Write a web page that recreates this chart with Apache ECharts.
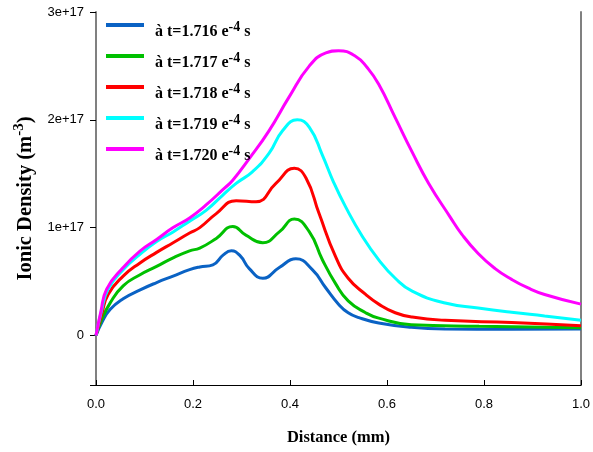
<!DOCTYPE html>
<html>
<head>
<meta charset="utf-8">
<script src="https://cdn.jsdelivr.net/npm/echarts@6/dist/echarts.min.js"></script>
<style>
  html, body { margin: 0; padding: 0; background: #fff; }
  #chart { width: 593px; height: 452px; }
</style>
</head>
<body>
<div id="chart"></div>
<script>
// valeurs en unités de 1e17 m^-3, distance en mm
var names = ['1.716', '1.717', '1.718', '1.719', '1.720'];
var colors = ['#0a62c4', '#00c000', '#ff0000', '#00ffff', '#ff00ff'];
var yTicks = [0, 1, 2, 3];

var t1716 = [[0, 0], [0.012, 0.12], [0.029, 0.24], [0.056, 0.34], [0.09, 0.42], [0.125, 0.49],
  [0.159, 0.55], [0.193, 0.61], [0.214, 0.635], [0.241, 0.655], [0.262, 0.745], [0.279, 0.785],
  [0.297, 0.74], [0.316, 0.62], [0.344, 0.53], [0.378, 0.63], [0.412, 0.71], [0.446, 0.61],
  [0.474, 0.44], [0.50, 0.29], [0.52, 0.21], [0.542, 0.165], [0.583, 0.115], [0.65, 0.075],
  [0.72, 0.06], [0.85, 0.058], [1.0, 0.06]];
var t1717 = [[0, 0], [0.012, 0.15], [0.029, 0.30], [0.056, 0.46], [0.09, 0.56], [0.125, 0.64],
  [0.159, 0.72], [0.193, 0.785], [0.214, 0.81], [0.248, 0.90], [0.282, 1.01], [0.309, 0.93],
  [0.344, 0.86], [0.378, 0.96], [0.409, 1.08], [0.44, 0.96], [0.467, 0.70], [0.494, 0.48],
  [0.52, 0.32], [0.556, 0.21], [0.583, 0.16], [0.65, 0.10], [0.79, 0.085], [1.0, 0.07]];
var t1718 = [[0, 0], [0.012, 0.20], [0.025, 0.38], [0.056, 0.55], [0.09, 0.67], [0.125, 0.77],
  [0.159, 0.86], [0.193, 0.95], [0.214, 1.0], [0.248, 1.13], [0.289, 1.25], [0.33, 1.24],
  [0.371, 1.41], [0.409, 1.55], [0.433, 1.46], [0.46, 1.13], [0.494, 0.73], [0.52, 0.53],
  [0.556, 0.38], [0.583, 0.29], [0.617, 0.21], [0.652, 0.17], [0.72, 0.14], [0.857, 0.12],
  [1.0, 0.09]];
var t1719 = [[0, 0], [0.011, 0.22], [0.025, 0.43], [0.056, 0.61], [0.09, 0.75], [0.125, 0.87],
  [0.159, 0.96], [0.193, 1.06], [0.227, 1.16], [0.261, 1.30], [0.289, 1.41], [0.323, 1.52],
  [0.357, 1.69], [0.385, 1.90], [0.415, 2.00], [0.44, 1.93], [0.467, 1.67], [0.49, 1.42],
  [0.515, 1.19], [0.549, 0.92], [0.583, 0.70], [0.617, 0.53], [0.652, 0.41], [0.72, 0.30],
  [0.788, 0.255], [0.857, 0.215], [0.925, 0.18], [1.0, 0.14]];
var t1720 = [[0, 0], [0.01, 0.22], [0.022, 0.43], [0.056, 0.63], [0.09, 0.78], [0.125, 0.89],
  [0.159, 1.00], [0.193, 1.09], [0.227, 1.21], [0.261, 1.35], [0.282, 1.44], [0.316, 1.64],
  [0.357, 1.90], [0.398, 2.21], [0.44, 2.50], [0.474, 2.62], [0.50, 2.64], [0.535, 2.59],
  [0.56, 2.48], [0.583, 2.33], [0.617, 2.02], [0.652, 1.70], [0.686, 1.41], [0.73, 1.10],
  [0.754, 0.94], [0.788, 0.76], [0.823, 0.62], [0.857, 0.52], [0.891, 0.44], [0.925, 0.38],
  [1.0, 0.29]];

var allData = [t1716, t1717, t1718, t1719, t1720];

var myChart = echarts.init(document.getElementById('chart'));

var serif = 'Liberation Serif';
var series = [];
for (var i = 0; i < names.length; i++) {
  series.push({
    name: names[i],
    type: 'line',
    data: allData[i],
    smooth: 0.5,
    symbol: 'none',
    lineStyle: { width: 3, color: colors[i] },
    itemStyle: { color: colors[i] }
  });
}

var option = {
  animation: false,
  grid: { left: 96, right: 10, top: 12, bottom: 67 },
  legend: {
    left: 106,
    top: 10,
    padding: 0,
    orient: 'vertical',
    icon: 'rect',
    itemWidth: 38,
    itemHeight: 4,
    itemGap: 1,
    data: names,
    formatter: function (n) {
      return '{p|à t=' + n + ' e}{s|-4}{a| s}';
    },
    textStyle: {
      rich: {
        p: { fontFamily: serif, fontWeight: 'bold', fontSize: 16, color: '#000', lineHeight: 16, padding: [14, 0, 0, 6] },
        a: { fontFamily: serif, fontWeight: 'bold', fontSize: 16, color: '#000', lineHeight: 16, padding: [14, 0, 0, 0] },
        s: { fontFamily: serif, fontWeight: 'bold', fontSize: 14, color: '#000', lineHeight: 14, padding: [10, 0, 6, 0] }
      }
    }
  },
  xAxis: {
    type: 'value',
    min: 0,
    max: 1,
    interval: 0.2,
    name: 'Distance (mm)',
    nameLocation: 'middle',
    nameGap: 44,
    nameTextStyle: { fontFamily: serif, fontWeight: 'bold', fontSize: 16.5, color: '#000' },
    axisLine: { show: true, onZero: false, lineStyle: { color: '#000', width: 1 } },
    axisTick: { show: true, inside: true, length: 5, lineStyle: { color: '#000' } },
    axisLabel: {
      margin: 13,
      fontFamily: 'Liberation Sans',
      fontSize: 13,
      color: '#000',
      formatter: function (v) { return v.toFixed(1); }
    },
    splitLine: { show: false }
  },
  yAxis: [{
    type: 'value',
    min: -0.46,
    max: 3,
    name: '{b|Ionic Density (m}{s|-3}{b|)}',
    nameLocation: 'middle',
    nameGap: 60,
    nameTextStyle: {
      rich: {
        b: { fontFamily: serif, fontWeight: 'bold', fontSize: 20.5, color: '#000', lineHeight: 22, padding: [6, 0, 0, 0] },
        s: { fontFamily: serif, fontWeight: 'bold', fontSize: 15, color: '#000', lineHeight: 20, padding: [0, 0, 8, 0] }
      }
    },
    axisLine: { show: true, lineStyle: { color: '#808080', width: 2 } },
    axisTick: { show: true, length: 6, customValues: [-0.46, 0, 1, 2, 3], lineStyle: { color: '#000' } },
    axisLabel: {
      margin: 12,
      fontFamily: 'Liberation Sans',
      fontSize: 13,
      color: '#000',
      customValues: yTicks,
      formatter: function (v) { return v === 0 ? '0' : v + 'e+17'; }
    },
    splitLine: { show: false }
  }, {
    type: 'value',
    position: 'right',
    min: -0.46,
    max: 3,
    axisLine: { show: true, lineStyle: { color: '#808080', width: 2 } },
    axisTick: { show: false },
    axisLabel: { show: false },
    splitLine: { show: false }
  }],
  series: series
};

myChart.setOption(option);
</script>
</body>
</html>
